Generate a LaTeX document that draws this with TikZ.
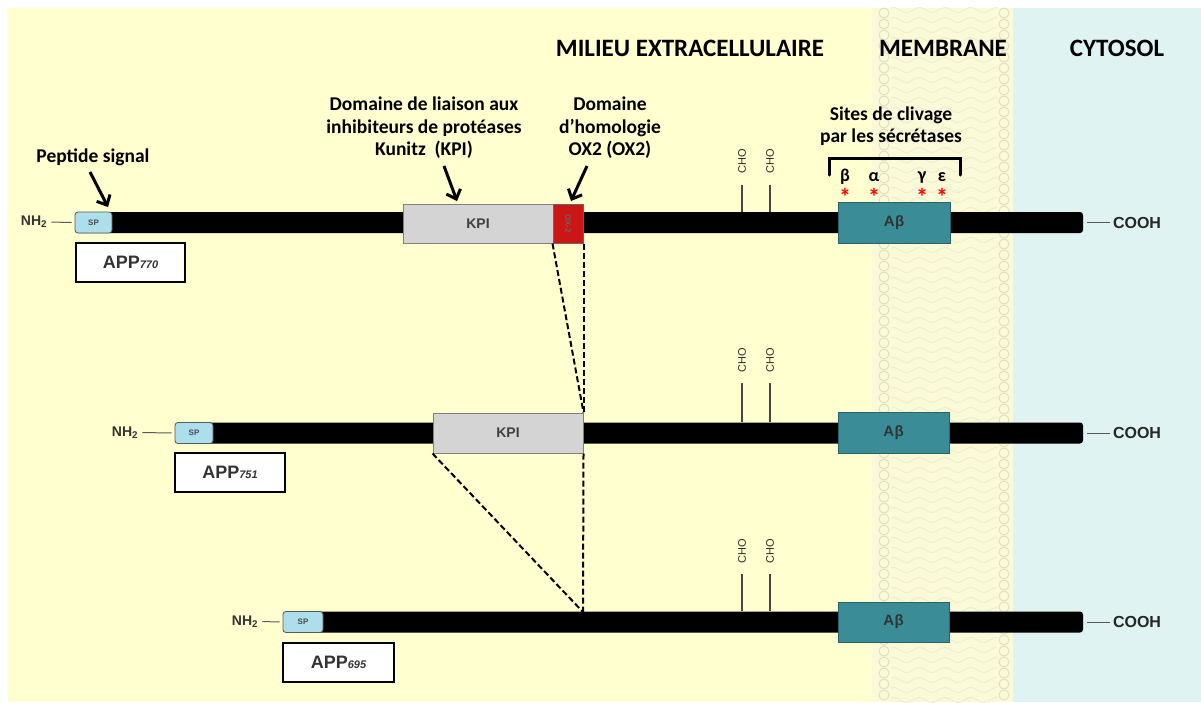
\documentclass[tikz,border=0pt]{standalone}
\usepackage{fontspec}
\setmainfont{Carlito}
\newfontfamily\arialf{Liberation Sans}
\usetikzlibrary{arrows.meta}
\definecolor{bgyellow}{RGB}{255,255,208}
\definecolor{memyellow}{RGB}{250,249,216}
\definecolor{memline}{RGB}{238,235,200}
\definecolor{memcirc}{RGB}{226,221,192}
\definecolor{cyto}{RGB}{224,243,243}
\definecolor{abteal}{RGB}{58,140,150}
\definecolor{kpigray}{RGB}{212,212,212}
\definecolor{oxred}{RGB}{204,22,22}
\definecolor{spblue}{RGB}{172,222,236}
\tikzset{
  bar/.style={fill=black, rounded corners=3pt, inner sep=0pt, minimum height=21pt},
  spbox/.style={fill=spblue, draw=gray!70!black, line width=0.8pt, rounded corners=3pt, inner sep=0pt, minimum height=21pt,
    font=\arialf\bfseries\fontsize{8}{8}\selectfont, text=black!70},
  kpibox/.style={fill=kpigray, draw=gray, line width=1pt, inner sep=0pt, minimum width=150pt, minimum height=39pt,
    font=\arialf\bfseries\fontsize{14}{14}\selectfont, text=black!75},
  oxbox/.style={fill=oxred, draw=black!60, line width=1pt, inner sep=0pt, minimum width=30pt, minimum height=39pt},
  oxtext/.style={font=\arialf\bfseries\fontsize{8}{8}\selectfont, text=black!60, rotate=-90, inner sep=0pt},
  abbox/.style={fill=abteal, draw=abteal!70!black, line width=0.8pt, inner sep=0pt, minimum width=111pt, minimum height=41pt,
    font=\arialf\bfseries\fontsize{15}{15}\selectfont, text=black!80},
  appbox/.style={fill=white, draw=black, line width=1.6pt, inner sep=0pt, minimum width=109pt, minimum height=39pt,
    font=\arialf\bfseries\fontsize{18}{18}\selectfont, text=black!80},
  nhtext/.style={font=\arialf\bfseries\fontsize{14}{14}\selectfont, text=black!80, inner sep=0pt},
  coohtext/.style={font=\arialf\bfseries\fontsize{16}{16}\selectfont, text=black!85, inner sep=0pt},
  endlink/.style={draw=gray!70!black, line width=1pt, shorten >=3pt, shorten <=4pt},
  titletext/.style={font=\bfseries\fontsize{25}{25}\selectfont, inner sep=0pt},
  labeltext/.style={font=\bfseries\fontsize{19.5}{22.5}\selectfont, align=center, inner sep=0pt},
  pointer/.style={line width=3pt, -{Straight Barb[length=8pt,width=15pt,line width=3pt]}},
  chotext/.style={font=\arialf\fontsize{11}{11}\selectfont, text=gray!35!black, rotate=90, anchor=west, inner sep=0pt},
  cholink/.style={draw=gray!55!black, line width=1.6pt},
  splice/.style={line width=2pt, dash pattern=on 6pt off 3pt},
  greek/.style={font=\bfseries\fontsize{18}{18}\selectfont, inner sep=0pt},
  star/.style={font=\bfseries\fontsize{24}{24}\selectfont, text=red, inner sep=0pt},
}
\begin{document}
\begin{tikzpicture}[x=1pt,y=-1pt]
\useasboundingbox (0,0) rectangle (1201,702);
% backgrounds
\fill[white] (0,0) rectangle (1201,702);
\fill[bgyellow] (8,8) rectangle (872,702);
\fill[memyellow] (872,8) rectangle (1013,702);
\fill[cyto] (1013,8) rectangle (1201,702);
\foreach \yy in {10,20,...,700}{
  \draw[memline, line width=0.8pt] plot[domain=891:997, samples=36] (\x, {\yy+2.5*sin(\x*14)});
}
\foreach \yy in {13,24,...,700}{
  \draw[memcirc, line width=0.9pt] (884,\yy) circle (5);
  \draw[memcirc, line width=0.9pt] (1004,\yy) circle (5);
}
% titles
\node[titletext] (t1) at (690,48) {MILIEU EXTRACELLULAIRE};
\node[titletext] (t2) at (943,48) {MEMBRANE};
\node[titletext] (t3) at (1117,48) {CYTOSOL};

% ---------- row 1 : APP770
\node[bar, minimum width=1008pt] (bar1) at (579,222.5) {};
\node[spbox, minimum width=37pt] (sp1) at (93.5,222.5) {\raisebox{-3pt}{SP}};
\node[nhtext] (nh1) at (34,222) {NH\textsubscript{2}};
\draw[endlink] (nh1.east) -- (sp1.west);
\node[kpibox] (kpi1) at (478,223.5) {KPI};
\node[oxbox] (ox1) at (568,223.5) {};
\node[oxtext] (oxt1) at (ox1.center) {OX-2};
\node[abbox, minimum width=112pt] (ab1) at (894,222.5) {A\kern0.5pt β};
\node[coohtext] (cooh1) at (1137,222.5) {COOH};
\draw[endlink] (bar1.east) -- (cooh1.west);
\node[appbox] (app1) at (130.5,262.5) {APP{\fontsize{11}{11}\selectfont\itshape 770}};
\node[chotext] (cho1a) at (742,174) {CHO};
\node[chotext] (cho1b) at (770,174) {CHO};
\coordinate (l1a) at (742,185);
\coordinate (l1b) at (770,185);
\draw[cholink] (l1a) -- (l1a |- bar1.north);
\draw[cholink] (l1b) -- (l1b |- bar1.north);

% ---------- row 2 : APP751
\node[bar, minimum width=908pt] (bar2) at (629,433) {};
\node[spbox, minimum width=38pt] (sp2) at (194,433) {\raisebox{-3pt}{SP}};
\node[nhtext] (nh2) at (125,432.5) {NH\textsubscript{2}};
\draw[endlink] (nh2.east) -- (sp2.west);
\node[kpibox, minimum height=40pt] (kpi2) at (508,433) {KPI};
\node[abbox] (ab2) at (893.5,432.5) {A\kern0.5pt β};
\node[coohtext] (cooh2) at (1137,433) {COOH};
\draw[endlink] (bar2.east) -- (cooh2.west);
\node[appbox, minimum width=110pt] (app2) at (230,472.5) {APP{\fontsize{11}{11}\selectfont\itshape 751}};
\node[chotext] (cho2a) at (742,373) {CHO};
\node[chotext] (cho2b) at (770,373) {CHO};
\coordinate (l2a) at (742,383);
\coordinate (l2b) at (770,383);
\draw[cholink] (l2a) -- (l2a |- bar2.north);
\draw[cholink] (l2b) -- (l2b |- bar2.north);

% ---------- row 3 : APP695
\node[bar, minimum width=800pt] (bar3) at (683,622) {};
\node[spbox, minimum width=40pt] (sp3) at (303,622) {\raisebox{-3pt}{SP}};
\node[nhtext] (nh3) at (245,621.5) {NH\textsubscript{2}};
\draw[endlink] (nh3.east) -- (sp3.west);
\node[abbox, minimum height=40pt] (ab3) at (893.5,622) {A\kern0.5pt β};
\node[coohtext] (cooh3) at (1137,622) {COOH};
\draw[endlink] (bar3.east) -- (cooh3.west);
\node[appbox, minimum width=111pt] (app3) at (338.5,662.5) {APP{\fontsize{11}{11}\selectfont\itshape 695}};
\node[chotext] (cho3a) at (742,564) {CHO};
\node[chotext] (cho3b) at (770,564) {CHO};
\coordinate (l3a) at (742,574);
\coordinate (l3b) at (770,574);
\draw[cholink] (l3a) -- (l3a |- bar3.north);
\draw[cholink] (l3b) -- (l3b |- bar3.north);

% splicing dashed lines
\coordinate (j3) at (583,612);
\draw[splice] (ox1.south west) -- (kpi2.north east);
\draw[splice] (ox1.south east) -- (kpi2.north east);
\draw[splice] (kpi2.south west) -- (j3);
\draw[splice] (kpi2.south east) -- (j3);

% labels and pointers
\node[labeltext] (lpep) at (93,157) {Peptide signal};
\coordinate (ppep) at (108,207);
\draw[pointer] (90,172) -- (ppep);
\node[labeltext] (lkpi) at (424,128) {Domaine de liaison aux\\inhibiteurs de protéases\\Kunitz\ \ (KPI)};
\coordinate (pkpi) at (457,201);
\draw[pointer] (444,166) -- (pkpi);
\node[labeltext] (lox) at (610,128) {Domaine\\d’homologie\\OX2 (OX2)};
\coordinate (pox) at (571,201);
\draw[pointer] (587,166) -- (pox);

% cleavage sites
\node[labeltext] (lsites) at (891,126) {Sites de clivage\\par les sécrétases};
\draw[line width=3pt, line cap=round] (829,175) -- (829,158) -- (960,158) -- (960,175);
\node[greek] (gb) at (845,177) {β};
\node[greek] (ga) at (874,177) {α};
\node[greek] (gg) at (922,178) {γ};
\node[greek] (ge) at (942,177) {ε};
\node[star] (sb) at (845,197) {*};
\node[star] (sa) at (874,197) {*};
\node[star] (sg) at (922,197) {*};
\node[star] (se) at (942,197) {*};
\end{tikzpicture}
\end{document}
